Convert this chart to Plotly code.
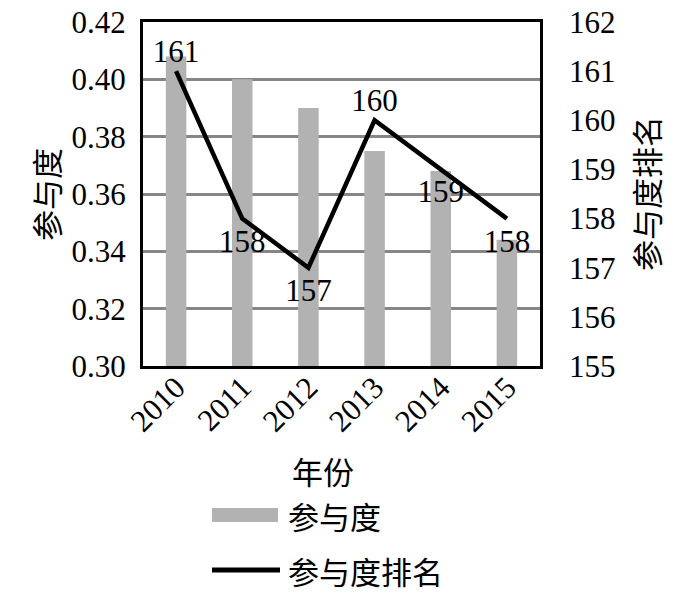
import plotly.graph_objects as go

years = ["2010", "2011", "2012", "2013", "2014", "2015"]
participation = [0.408, 0.400, 0.390, 0.375, 0.368, 0.344]
rank = [161, 158, 157, 160, 159, 158]
rank_text_pos = ["top center", "bottom center", "bottom center", "top center", "bottom center", "bottom center"]
rank_text_gap = [1, 15, 15, 1, 14, 15]

serif = "Liberation Serif, Times New Roman, Noto Sans CJK SC, serif"
cjk = "Noto Sans CJK SC, sans-serif"
NUM = 31
CJK = 31

# page has an 8px body margin; plot area in page pixels: x 143-540, y 22-366
PL, PR, PT, PB = 143, 540, 22, 366
def px(X):
    return (X - PL) / (PR - PL)
def py(Y):
    return (PB - Y) / (PB - PT)

fig = go.Figure()
fig.add_trace(go.Bar(
    x=years, y=participation, name="参与度",
    marker=dict(color="#b2b2b2", line=dict(width=0)),
    width=0.31, showlegend=False, yaxis="y",
))
fig.add_trace(go.Scatter(
    x=years, y=rank, name="参与度排名", yaxis="y2",
    mode="lines+markers+text", text=[str(r) for r in rank],
    textposition=rank_text_pos,
    textfont=dict(family=serif, size=NUM, color="black"),
    line=dict(color="black", width=4.5),
    marker=dict(size=rank_text_gap, opacity=0, color="black"),
    showlegend=False, cliponaxis=False,
))

fig.update_layout(
    width=691, height=589,
    margin=dict(l=135, r=159, t=14, b=231),
    paper_bgcolor="white", plot_bgcolor="white",
    font=dict(family=serif, size=NUM, color="black"),
    xaxis=dict(
        type="category", tickangle=-45, automargin=False,
        tickfont=dict(family=serif, size=NUM), ticklabeloverflow="allow",
        showline=True, linecolor="black", linewidth=3, mirror=True,
        ticks="", showgrid=False, ticklabelstandoff=-12,
    ),
    yaxis=dict(
        range=[0.30, 0.42], dtick=0.02, tickformat=".2f", automargin=False,
        tickfont=dict(family=serif, size=NUM), ticklabelstandoff=8,
        ticklabeloverflow="allow",
        showgrid=True, gridcolor="#868686", gridwidth=2.5,
        showline=True, linecolor="black", linewidth=3, mirror=True,
        ticks="", zeroline=False,
    ),
    yaxis2=dict(
        range=[155, 162], dtick=1, overlaying="y", side="right", automargin=False,
        tickfont=dict(family=serif, size=NUM), ticklabelstandoff=28,
        ticklabeloverflow="allow",
        showgrid=False, zeroline=False, ticks="", showline=False,
    ),
)

# axis titles
fig.add_annotation(text="年份", xref="paper", yref="paper", x=px(323), y=py(470),
                   xanchor="center", yanchor="middle", showarrow=False,
                   font=dict(family=cjk, size=CJK, color="black"))
fig.add_annotation(text="参与度", xref="paper", yref="paper", x=px(45), y=py(195),
                   xanchor="center", yanchor="middle", showarrow=False, textangle=-90,
                   font=dict(family=cjk, size=CJK, color="black"))
fig.add_annotation(text="参与度排名", xref="paper", yref="paper", x=px(645), y=py(194),
                   xanchor="center", yanchor="middle", showarrow=False, textangle=-90,
                   font=dict(family=cjk, size=CJK, color="black"))

# custom legend
fig.add_shape(type="rect", xref="paper", yref="paper",
              x0=px(212), x1=px(278), y0=py(522), y1=py(508),
              fillcolor="#b2b2b2", line=dict(width=0))
fig.add_shape(type="line", xref="paper", yref="paper",
              x0=px(212), x1=px(280), y0=py(570), y1=py(570),
              line=dict(color="black", width=5))
fig.add_annotation(text="参与度", xref="paper", yref="paper",
                   x=px(286), y=py(515), xanchor="left", yanchor="middle",
                   showarrow=False, font=dict(family=cjk, size=CJK, color="black"))
fig.add_annotation(text="参与度排名", xref="paper", yref="paper",
                   x=px(286), y=py(570), xanchor="left", yanchor="middle",
                   showarrow=False, font=dict(family=cjk, size=CJK, color="black"))

fig.write_html("out.html")
